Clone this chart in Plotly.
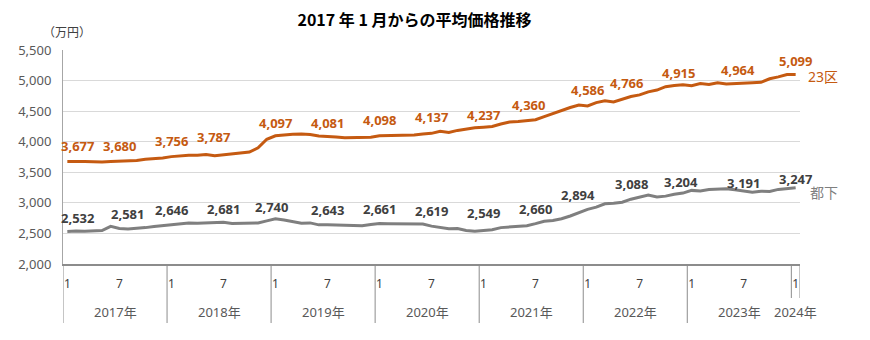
import plotly.graph_objects as go

# ---- data ----
title_text = "2017 年 1 月からの平均価格推移"
unit_text = "（万円）"
series_names = ["23区", "都下"]
year_labels = ["2017年", "2018年", "2019年", "2020年", "2021年", "2022年", "2023年", "2024年"]
month_tick_labels = ["1", "7"]

ku23 = [
    3677, 3682, 3677, 3672, 3668, 3677, 3680, 3688, 3693, 3712, 3720, 3735,   # 2017
    3756, 3768, 3780, 3778, 3792, 3772, 3787, 3810, 3818, 3830, 3900, 4040,   # 2018
    4097, 4112, 4122, 4125, 4118, 4095, 4081, 4078, 4066, 4065, 4066, 4075,   # 2019
    4098, 4102, 4110, 4115, 4108, 4125, 4137, 4172, 4152, 4185, 4212, 4228,   # 2020
    4237, 4248, 4290, 4322, 4330, 4342, 4360, 4410, 4460, 4520, 4560, 4600,   # 2021
    4586, 4640, 4670, 4650, 4700, 4740, 4766, 4815, 4845, 4900, 4920, 4930,   # 2022
    4915, 4950, 4935, 4965, 4945, 4955, 4964, 4966, 4972, 5030, 5060, 5100,   # 2023
    5099,                                                                     # 2024
]

toka = [
    2532, 2540, 2535, 2538, 2548, 2615, 2581, 2572, 2580, 2595, 2615, 2630,   # 2017
    2646, 2665, 2670, 2665, 2672, 2680, 2681, 2662, 2668, 2665, 2672, 2705,   # 2018
    2740, 2720, 2690, 2668, 2672, 2640, 2643, 2640, 2642, 2635, 2625, 2645,   # 2019
    2661, 2658, 2655, 2650, 2652, 2655, 2619, 2600, 2578, 2580, 2548, 2535,   # 2020
    2549, 2560, 2595, 2603, 2610, 2625, 2660, 2700, 2710, 2740, 2785, 2845,   # 2021
    2894, 2930, 2985, 2995, 3010, 3060, 3088, 3128, 3095, 3110, 3140, 3160,   # 2022
    3204, 3195, 3217, 3230, 3232, 3215, 3191, 3175, 3190, 3185, 3220, 3235,   # 2023
    3247,                                                                     # 2024
]

# ---- styling (label offsets in px) ----
orange = "#C55A11"
gray_line = "#7F7F7F"
gray_text = "#404040"
ku23_label_dx = {0: 10, 18: -10, 54: -7, 66: -13, 72: -13, 78: -6}
toka_label_dx = {0: 10, 6: 8, 24: -4, 60: -10, 66: -8, 72: -11}
ku23_label_dy = [15, 15, 16, 18, 13, 14, 16, 16, 12, 15, 16, 12, 13, 13, 14]
toka_label_dy = [13, 14, 15, 13, 12, 15, 15, 15, 17, 15, 14, 13, 8, 8, 9]

n = len(ku23)
x = list(range(n))
label_idx = list(range(0, n, 6))
plot_w, plot_h = 737.0, 214.0

fig = go.Figure()
fig.add_trace(go.Scatter(x=x, y=ku23, mode="lines", name=series_names[0],
                         line=dict(color=orange, width=3), hoverinfo="skip"))
fig.add_trace(go.Scatter(x=x, y=toka, mode="lines", name=series_names[1],
                         line=dict(color=gray_line, width=3), hoverinfo="skip"))

annotations = []
for k, i in enumerate(label_idx):
    annotations.append(dict(x=i, y=ku23[i], xref="x", yref="y", text=f"<b>{ku23[i]:,}</b>",
                            showarrow=False, xanchor="center", yanchor="middle",
                            xshift=ku23_label_dx.get(i, 0), yshift=ku23_label_dy[k],
                            font=dict(size=13, color=orange)))
    annotations.append(dict(x=i, y=toka[i], xref="x", yref="y", text=f"<b>{toka[i]:,}</b>",
                            showarrow=False, xanchor="center", yanchor="middle",
                            xshift=toka_label_dx.get(i, 0), yshift=toka_label_dy[k],
                            font=dict(size=13, color=gray_text)))

# series names at the right end
annotations.append(dict(x=n - 1, y=ku23[-1], xref="x", yref="y", text=series_names[0],
                        showarrow=False, xanchor="left", yanchor="middle", xshift=10, yshift=-2,
                        font=dict(size=14, color=orange)))
annotations.append(dict(x=n - 1, y=toka[-1], xref="x", yref="y", text=series_names[1],
                        showarrow=False, xanchor="left", yanchor="middle", xshift=12, yshift=-5,
                        font=dict(size=14, color=gray_line)))

# unit label (above the y axis)
annotations.append(dict(x=(67 - 63) / plot_w, y=1 + (50 - 33) / plot_h, xref="paper", yref="paper",
                        text=unit_text, showarrow=False, xanchor="center", yanchor="middle",
                        font=dict(size=12, color="#404040")))

# year labels + separators
shapes = []
for yi, yl in enumerate(year_labels):
    start = yi * 12
    end = min(start + 12, n) - 1
    center = (start + end) / 2
    annotations.append(dict(x=center, y=-(312 - 264) / plot_h, xref="x", yref="paper", text=yl,
                            showarrow=False, xanchor="center", yanchor="middle",
                            font=dict(size=13, color="#595959")))
    short = (start + 12 > n)
    ybot = -(298 - 264) / plot_h if short else -(323 - 264) / plot_h
    shapes.append(dict(type="line", xref="x", yref="paper", x0=start - 0.5, x1=start - 0.5,
                       y0=0, y1=ybot, line=dict(color="#8C8C8C", width=1)))
shapes.append(dict(type="line", xref="x", yref="paper", x0=n - 0.5, x1=n - 0.5,
                   y0=0, y1=-(298 - 264) / plot_h, line=dict(color="#8C8C8C", width=1)))

tickvals = [i for i in x if i % 6 == 0]
ticktext = [month_tick_labels[(i // 6) % 2] for i in tickvals]

fig.update_layout(
    width=870, height=340,
    margin=dict(l=63, r=70, t=50, b=76),
    paper_bgcolor="white", plot_bgcolor="white",
    font=dict(family="Noto Sans, Noto Sans CJK JP", color="#404040"),
    showlegend=False,
    title=dict(text=f"<b>{title_text}</b>", x=414.5 / 870, y=1 - 20 / 340,
               xanchor="center", yanchor="middle",
               font=dict(size=16, color="#000000", family="Noto Sans CJK JP")),
    xaxis=dict(range=[-0.5, n - 0.5], tickvals=tickvals, ticktext=ticktext,
               showgrid=False, zeroline=False, showline=True, linecolor="#8C8C8C", linewidth=1.5,
               ticks="outside", ticklen=8, tickcolor="rgba(0,0,0,0)",
               tickfont=dict(size=12, color="#404040")),
    yaxis=dict(range=[2000, 5500], dtick=500, tickformat=",", showgrid=True,
               gridcolor="#D9D9D9", gridwidth=1, zeroline=False,
               showline=True, linecolor="#A6A6A6", linewidth=1,
               ticks="outside", ticklen=8, tickcolor="rgba(0,0,0,0)",
               tickfont=dict(size=13, color="#595959")),
    annotations=annotations,
    shapes=shapes,
)

fig.write_html("out.html")
